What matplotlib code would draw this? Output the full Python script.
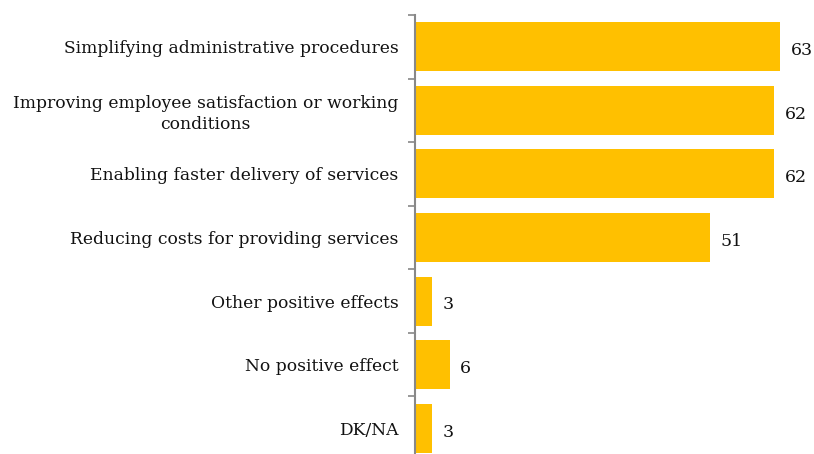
import matplotlib.pyplot as plt

categories = [
    'Simplifying administrative procedures',
    'Improving employee satisfaction or working\nconditions',
    'Enabling faster delivery of services',
    'Reducing costs for providing services',
    'Other positive effects',
    'No positive effect',
    'DK/NA',
]
values = [63, 62, 62, 51, 3, 6, 3]

plt.rcParams['font.family'] = ['DejaVu Serif']

fig = plt.figure(figsize=(8.14, 4.54), dpi=100)
# axes spans from the top tick (y=15px) to below the bottom edge
ax = fig.add_axes([415 / 814, -6 / 454, 1 - 415 / 814, 445 / 454])

n = len(categories)
pos = list(range(n))
ax.barh(pos, values, height=0.77, color='#FFC000')
ax.set_ylim(n - 0.5, -0.5)
ax.set_xlim(0, 63 * 814 / (780 - 415) * (1 - 415 / 814))

for p, v in zip(pos, values):
    ax.text(v + 1.8, p + 0.06, str(v), va='center', ha='left', fontsize=12.5, color='#111111')

ax.set_yticks([i - 0.5 for i in range(n + 1)])
ax.set_yticklabels([])
ax.set_yticks(pos, minor=True)
ax.set_yticklabels(categories, minor=True, fontsize=12.3, color='#111111', ha='right',
                   multialignment='center', linespacing=1.3)
ax.tick_params(axis='y', which='minor', length=0, pad=12)
ax.tick_params(axis='y', which='major', length=5, color='#888888', width=1.2)
ax.set_xticks([])
for s in ['top', 'right', 'bottom']:
    ax.spines[s].set_visible(False)
ax.spines['left'].set_color('#888888')
ax.spines['left'].set_linewidth(1.5)

fig.savefig('out.png', dpi=100)
